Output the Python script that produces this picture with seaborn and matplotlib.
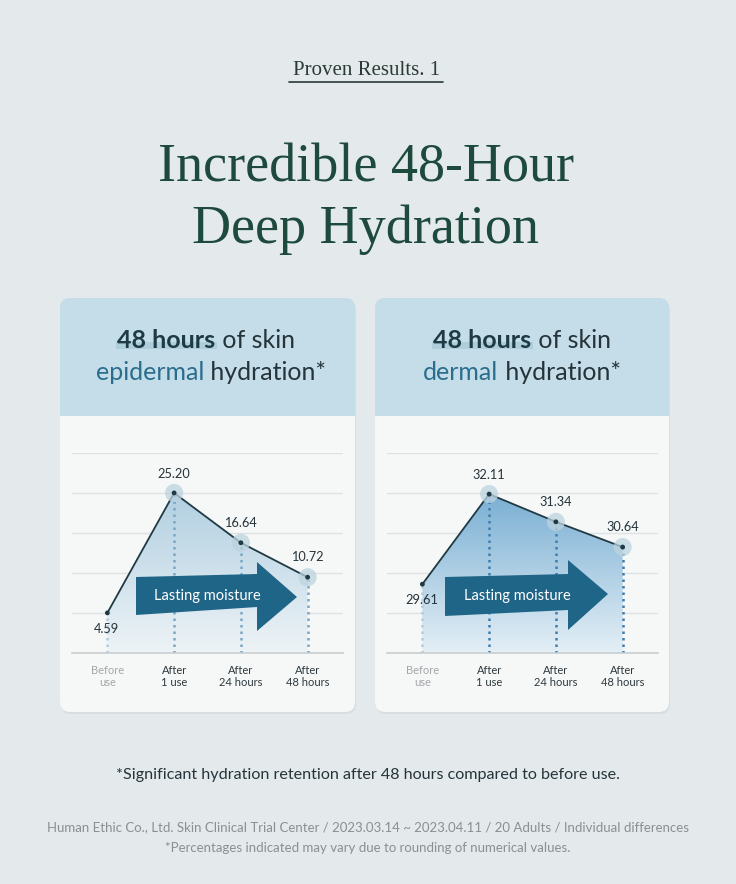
import numpy as np
import seaborn as sns
from matplotlib import pyplot as plt
from matplotlib.patches import FancyBboxPatch, Rectangle, Polygon
from matplotlib.colors import LinearSegmentedColormap

# data
stages = ["Before\nuse", "After\n1 use", "After\n24 hours", "After\n48 hours"]
epidermal = [4.59, 25.20, 16.64, 10.72]
dermal = [29.61, 32.11, 31.34, 30.64]
epidermal_ylim = (-2.3, 32.06)
dermal_ylim = (27.7, 33.25)

BG = "#e4e9eb"
HEADER = "#c4dde8"
BODY = "#f6f7f7"
DARK = "#25343b"
TEAL = "#2a6d8c"

sns.set_theme(style="white")
plt.rcParams["font.family"] = ["Lato", "DejaVu Sans"]

fig = plt.figure(figsize=(7.36, 8.84), dpi=100, facecolor=BG)


def pixel_axes(z):
    a = fig.add_axes([0, 0, 1, 1], zorder=z)
    a.set_xlim(0, 736)
    a.set_ylim(884, 0)
    a.axis("off")
    a.patch.set_alpha(0)
    return a


bg = pixel_axes(0)

# heading
serif = ["Liberation Serif", "DejaVu Serif"]
bg.text(367, 75, "Proven Results. 1", family=serif, fontsize=15, color="#2a3a35",
        ha="center", va="baseline")
bg.plot([289, 443], [82, 82], color="#2a3a35", lw=1.2)
bg.text(366, 181, "Incredible 48-Hour", family=serif, fontsize=39, color="#1d4a3d",
        ha="center", va="baseline")
bg.text(366, 243, "Deep Hydration", family=serif, fontsize=39, color="#1d4a3d",
        ha="center", va="baseline")


def card(x0, x1, y0=298, ymid=416, y1=712):
    bg.add_patch(FancyBboxPatch((x0 + 1, y0 + 2), x1 - x0, y1 - y0,
                                boxstyle="round,pad=0,rounding_size=10",
                                fc="#d8dee0", ec="none", zorder=1))
    bg.add_patch(FancyBboxPatch((x0, y0), x1 - x0, y1 - y0,
                                boxstyle="round,pad=0,rounding_size=10",
                                fc=HEADER, ec="none", zorder=1))
    bg.add_patch(FancyBboxPatch((x0, ymid), x1 - x0, y1 - ymid,
                                boxstyle="round,pad=0,rounding_size=10",
                                fc=BODY, ec="none", zorder=1))
    bg.add_patch(Rectangle((x0, ymid), x1 - x0, 14, fc=BODY, ec="none", zorder=1))


def rich_line(cx, y, parts, size=18, highlight=False):
    texts = [bg.text(0, y, s, color=c, fontweight=w, fontsize=size,
                     ha="left", va="baseline", zorder=5) for s, c, w in parts]
    r = fig.canvas.get_renderer()
    widths = [t.get_window_extent(r).width for t in texts]
    x = cx - sum(widths) / 2
    for i, (t, w) in enumerate(zip(texts, widths)):
        t.set_x(x)
        if highlight and i == 0:
            bg.add_patch(Rectangle((x - 1, y - 6), w + 2, 7, fc="#9fc2d3",
                                   alpha=0.55, ec="none", zorder=4))
        x += w


card(60, 355)
card(375, 669)

rich_line(206, 348, [("48 hours", "#1e3a44", "bold"), (" of skin", DARK, "normal")], highlight=True)
rich_line(211, 380, [("epidermal", TEAL, "normal"), (" hydration*", DARK, "normal")])
rich_line(522, 348, [("48 hours", "#1e3a44", "bold"), (" of skin", DARK, "normal")], highlight=True)
rich_line(522, 380, [("dermal", TEAL, "normal"), (" hydration*", DARK, "normal")])


def chart(x0, x1, values, ylim, colors, dot_color, arrow):
    ax = fig.add_axes([x0 / 736, 1 - 653 / 884, (x1 - x0) / 736, 200 / 884], zorder=1)
    ax.set_facecolor("none")
    ax.set_xlim(-0.53, 3.53)
    ax.set_ylim(*ylim)
    idx = np.arange(len(values))
    ax.set_yticks(np.linspace(ylim[0], ylim[1], 6))
    ax.yaxis.grid(True, color="#dfe2e3", lw=1)
    ax.set_yticklabels([])
    ax.tick_params(axis="y", length=0)
    for s in ["top", "right", "left"]:
        ax.spines[s].set_visible(False)
    ax.spines["bottom"].set_color("#c9cdcf")
    ax.spines["bottom"].set_linewidth(1.2)

    # gradient area under the line
    poly = ax.fill_between(idx, ylim[0], values, color="none", lw=0)
    cmap = LinearSegmentedColormap.from_list("g", colors)
    grad = np.linspace(0, 1, 256).reshape(-1, 1)
    im = ax.imshow(grad, extent=[-0.53, 3.53, ylim[0], ylim[1]], origin="lower",
                   aspect="auto", cmap=cmap, zorder=1)
    im.set_clip_path(poly.get_paths()[0], transform=ax.transData)

    ax.vlines(idx[1:], ylim[0], values[1:], colors=dot_color, linestyles=(0, (1, 1.6)),
              lw=1.8, zorder=2)
    ax.vlines(idx[:1], ylim[0], values[:1], colors="#b3cddd", linestyles=(0, (1, 1.6)),
              lw=1.8, zorder=2)

    sns.lineplot(x=idx, y=values, ax=ax, color="#1f3a44", lw=1.3, zorder=3)
    sns.scatterplot(x=idx[1:], y=values[1:], ax=ax, s=170, color="#bcd3de", alpha=0.75,
                    edgecolor="none", zorder=3)
    sns.scatterplot(x=idx, y=values, ax=ax, s=12, color="#1f3a44", edgecolor="none", zorder=4)

    offsets = [(-1, -16), (0, 19), (0, 20), (0, 20)]
    for i, v in enumerate(values):
        ax.annotate(f"{v:.2f}", (i, v), xytext=offsets[i], textcoords="offset pixels",
                    ha="center", va="center", fontsize=9.2, color="#25343b", zorder=6,
                    annotation_clip=False)

    ax.set_xticks(idx)
    ax.set_xticklabels(stages, fontsize=8, linespacing=1.05)
    ax.tick_params(axis="x", length=0, pad=9)
    for i, lab in enumerate(ax.get_xticklabels()):
        lab.set_color("#a3a7a9" if i == 0 else "#2e3a40")

    # "Lasting moisture" arrow on an overlay above the chart
    fg = pixel_axes(2)
    fg.add_patch(Polygon(arrow, closed=True, fc="#1f6587", ec="none"))
    tx = (arrow[0][0] + arrow[2][0]) / 2 + 11
    fg.text(tx, 596, "Lasting moisture", color="white", fontsize=10.5,
            ha="center", va="center")
    return ax


chart(72, 343, epidermal, epidermal_ylim, ["#edf3f6", "#a3c7dc"], "#7aa7c6",
      [(136, 577), (257, 574), (257, 562), (297, 597), (257, 631), (257, 607), (136, 615)])
chart(387, 658, dermal, dermal_ylim, ["#e4eff6", "#5f9fca"], "#3f7daf",
      [(445, 577), (568, 574), (568, 560), (608, 594), (568, 630), (568, 610), (445, 616)])

# footnotes
bg.text(368, 775, "*Significant hydration retention after 48 hours compared to before use.",
        fontsize=11.6, color="#25343b", ha="center", va="center")
bg.text(368, 827, "Human Ethic Co., Ltd. Skin Clinical Trial Center / 2023.03.14 ~ 2023.04.11 / "
        "20 Adults / Individual differences", fontsize=9.5, color="#8a8f92",
        ha="center", va="center")
bg.text(368, 848, "*Percentages indicated may vary due to rounding of numerical values.",
        fontsize=9.5, color="#8a8f92", ha="center", va="center")

fig.savefig("out.png", dpi=100, facecolor=BG)
